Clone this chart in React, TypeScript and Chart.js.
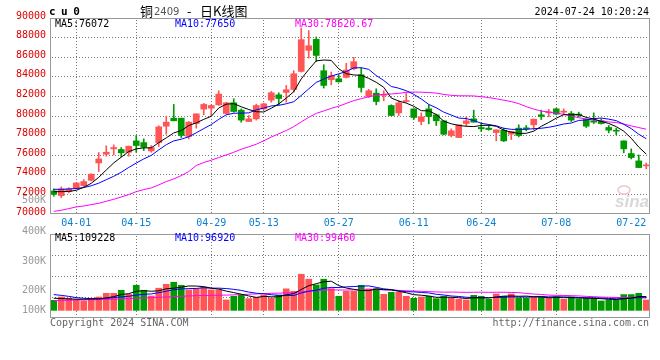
import React, { useEffect, useRef } from 'react';
import { Chart, registerables } from 'chart.js';

Chart.register(...registerables);

// ---------- data ----------
const dates = [
  '03-27','03-28','03-29','04-01','04-02','04-03','04-08','04-09','04-10','04-11',
  '04-12','04-15','04-16','04-17','04-18','04-19','04-22','04-23','04-24','04-25',
  '04-26','04-29','04-30','05-06','05-07','05-08','05-09','05-10','05-13','05-14',
  '05-15','05-16','05-17','05-20','05-21','05-22','05-23','05-24','05-27','05-28',
  '05-29','05-30','05-31','06-03','06-04','06-05','06-06','06-07','06-11','06-12',
  '06-13','06-14','06-17','06-18','06-19','06-20','06-21','06-24','06-25','06-26',
  '06-27','06-28','07-01','07-02','07-03','07-04','07-05','07-08','07-09','07-10',
  '07-11','07-12','07-15','07-16','07-17','07-18','07-19','07-22','07-23','07-24',
];

const opens = [
  72350,71880,72280,72620,72900,73440,75210,76100,76650,76580,
  76300,77460,77290,76440,77290,78960,79780,79780,77910,79230,
  80700,80800,81140,80260,81350,80600,79440,79710,80730,81620,
  82160,82400,82710,84550,86700,87820,84620,83700,83800,83940,
  84820,84210,81990,82330,82100,81070,80320,81480,80730,79440,
  80730,80120,79510,78010,77800,79230,79710,78830,78760,78310,
  78550,78140,78760,78760,79100,80120,80320,80730,80390,80260,
  80150,79640,79510,79510,78830,78550,77460,76170,75420,74910,
];
const highs = [
  72560,72760,72690,73170,73510,74120,76270,76950,77050,76780,
  76920,78010,77670,76990,79000,79980,81180,79780,79440,80220,
  81280,81140,82570,81410,81760,80730,80050,81210,81310,82510,
  82370,83120,84620,88980,88710,88060,85230,84480,84210,85370,
  85980,84890,82710,82780,82570,81140,81550,82370,80730,80320,
  81140,80190,79510,78690,79100,79920,80600,79300,79100,78590,
  78760,78420,79100,79030,79680,80600,80670,80800,80730,80460,
  80390,79710,80320,79710,79030,78760,77460,76650,76030,75210,
];
const lows = [
  71810,71670,72150,72560,72800,73370,74330,75900,76030,75830,
  75900,76300,76470,76300,76880,78140,79510,77800,77670,78760,
  80120,80020,81070,80190,80390,79370,79440,79580,80630,81410,
  81140,81410,82440,84480,85910,85570,82850,83190,83460,83870,
  84720,82440,81890,81140,81550,80050,80050,81410,79640,79100,
  79200,79030,78080,77870,77800,78960,79370,78420,78550,77460,
  77390,77600,77870,78490,78590,79640,79920,80120,80120,79440,
  79920,78830,79230,79170,78280,78080,76240,75620,74740,74600,
];
const closes = [
  72010,72560,72560,73170,73310,74060,75620,76300,76780,76240,
  76920,76990,76820,76780,78890,79370,79510,78010,79370,80220,
  81180,81070,82230,81350,80460,79580,79710,81070,81240,82370,
  81790,82680,84310,87790,87170,86180,83120,84110,83490,84690,
  85540,82910,82570,81480,82160,80050,81350,81550,79850,79920,
  79950,79510,78140,78490,79100,79510,79370,78690,78620,78590,
  77460,78420,78010,78690,79680,79950,80390,80190,80460,79580,
  80090,78960,79370,79230,78550,78450,76650,75760,74740,74980,
];
const volumes = [
  79000,105000,95000,84000,74000,92000,105000,134000,134000,158000,
  126000,197000,158000,113000,174000,205000,221000,197000,161000,171000,
  182000,161000,161000,82000,111000,121000,92000,103000,121000,97000,
  121000,169000,150000,284000,245000,200000,245000,171000,111000,150000,
  150000,197000,169000,171000,126000,142000,142000,111000,95000,105000,
  111000,92000,111000,95000,87000,82000,118000,111000,87000,129000,
  111000,129000,97000,95000,103000,105000,95000,108000,87000,105000,
  90000,95000,95000,74000,82000,79000,124000,124000,134000,82000,
];

// moving-average values at the left edge, where the window reaches before the first visible day
const ma5Head = [72280, 72280, 72300, 72420];
const ma10Head = [72520, 72520, 72550, 72600, 72700, 72880, 73150, 73500, 73850];
const ma30Head = [
  70270,70380,70550,70720,70820,70960,71090,71300,71500,71740,
  71980,72280,72490,72660,72970,73310,73580,73920,74330,74950,
  75250,75490,75760,76030,76300,76610,76850,77120,77460,
];
const vma5Head = [95000, 93000, 90000, 88000];
const vma10Head = [124000, 118000, 110000, 100000, 95000, 92000, 92000, 95000, 100000];
const vma30Head = [
  76000,79000,79000,82000,82000,84000,84000,87000,87000,90000,
  92000,95000,97000,100000,103000,105000,108000,111000,113000,116000,
  117000,118000,119000,120000,122000,124000,127000,129000,131000,
];

const tickDates = ['04-01','04-15','04-29','05-13','05-27','06-11','06-24','07-08','07-22'];
const gridDates = ['04-01','04-15','04-29','05-13','05-27','06-11','06-24','07-08'];
const priceMin = 70000;
const priceMax = 90000;
const priceStep = 2000;
const volMin = -60000;
const volMax = 600000;
const volLabels = ['500K', '400K', '300K', '200K', '100K'];
const volLabelValues = [867000, 624000, 388000, 160000, 3000];

const symbol = 'cu0';
const titleName = '铜';
const titleCode = '2409';
const titleSuffix = '日K线图';
const timeStamp = '2024-07-24 10:20:24';
const priceLegend = ['MA5:76072', 'MA10:77650', 'MA30:78620.67'];
const volLegend = ['MA5:109228', 'MA10:96920', 'MA30:99460'];
const copyright = 'Copyright 2024 SINA.COM';
const siteUrl = 'http://finance.sina.com.cn';

// ---------- styles ----------
const UP = '#FF5555';
const DOWN = '#009900';
const MA_COLORS = ['#000000', '#0000FF', '#FF00FF'];
const GRID = '#777777';
const FRAME = '#999999';
const MONO = '"DejaVu Sans Mono", monospace';
const CJK = '"Noto Sans CJK SC", sans-serif';

function movingAverage(values: number[], n: number, head: number[]) {
  return values.map((_, i) => {
    if (i < n - 1) return head[i];
    let s = 0;
    for (let k = i - n + 1; k <= i; k++) s += values[k];
    return s / n;
  });
}

function lineDs(data: number[], color: string) {
  return {
    type: 'line' as const,
    data,
    borderColor: color,
    borderWidth: 1,
    pointRadius: 0,
    tension: 0,
    fill: false,
    order: 0,
  };
}

function drawFrame(chart: any) {
  const { ctx, chartArea: a } = chart;
  ctx.save();
  ctx.strokeStyle = FRAME;
  ctx.lineWidth = 1;
  ctx.strokeRect(a.left + 0.5, a.top + 0.5, a.right - a.left - 1, a.bottom - a.top - 1);
  ctx.restore();
}

// dotted grid: one-pixel dots every 3px, placed from the chart's own scales
function drawDottedGrid(chart: any, yValues: number[]) {
  const { ctx, chartArea: a, scales } = chart;
  ctx.save();
  ctx.fillStyle = GRID;
  yValues.forEach((v) => {
    const py = Math.round(scales.y.getPixelForValue(v) - 0.5);
    for (let x = a.left + 2; x < a.right - 1; x += 3) ctx.fillRect(x, py, 1, 1);
  });
  gridDates.forEach((d) => {
    const px = Math.round(scales.x.getPixelForValue(dates.indexOf(d)) - 0.5);
    for (let y = a.top + 2; y < a.bottom - 1; y += 3) ctx.fillRect(px, y, 1, 1);
  });
  ctx.restore();
}

function drawLegend(chart: any, texts: string[], dy: number) {
  const { ctx, chartArea: a } = chart;
  ctx.save();
  ctx.font = `10px ${MONO}`;
  ctx.textBaseline = 'middle';
  ctx.textAlign = 'left';
  texts.forEach((t, i) => {
    ctx.fillStyle = MA_COLORS[i];
    ctx.fillText(t, a.left + 5 + i * 120, a.top + dy);
  });
  ctx.restore();
}

export default function App() {
  const priceRef = useRef<HTMLCanvasElement>(null);
  const volRef = useRef<HTMLCanvasElement>(null);

  useEffect(() => {
    const colors = closes.map((c, i) => (c >= opens[i] ? UP : DOWN));
    const ma5 = movingAverage(closes, 5, ma5Head);
    const ma10 = movingAverage(closes, 10, ma10Head);
    const ma30 = movingAverage(closes, 30, ma30Head);
    const vma5 = movingAverage(volumes, 5, vma5Head);
    const vma10 = movingAverage(volumes, 10, vma10Head);
    const vma30 = movingAverage(volumes, 30, vma30Head);

    const priceDecor = {
      id: 'priceDecor',
      beforeDatasetsDraw(chart: any) {
        const { ctx, chartArea: a } = chart;
        const ticks = chart.scales.y.ticks.map((t: any) => t.value).filter((v: number) => v > priceMin && v < priceMax);
        drawDottedGrid(chart, ticks);
        ctx.save();
        // watermark: small eye mark + "sina"
        ctx.strokeStyle = '#f4c4c4';
        ctx.lineWidth = 1.5;
        ctx.beginPath();
        ctx.ellipse(a.right - 26, a.bottom - 24, 6, 4, 0, 0, Math.PI * 2);
        ctx.stroke();
        ctx.font = 'italic bold 17px "Liberation Sans", sans-serif';
        ctx.fillStyle = '#d8d8d8';
        ctx.textAlign = 'right';
        ctx.textBaseline = 'alphabetic';
        ctx.fillText('sina', a.right - 1, a.bottom - 7);
        ctx.restore();
      },
      afterDraw(chart: any) {
        const { ctx, chartArea: a } = chart;
        drawFrame(chart);
        drawLegend(chart, priceLegend, 6);
        ctx.save();
        ctx.fillStyle = '#000';
        ctx.textBaseline = 'alphabetic';
        ctx.textAlign = 'left';
        ctx.font = `bold 11px ${MONO}`;
        ctx.letterSpacing = '5.5px';
        ctx.fillText(symbol, a.left - 1, 15);
        ctx.letterSpacing = '0px';
        ctx.textBaseline = 'middle';
        ctx.font = `13px ${CJK}`;
        ctx.fillText(titleName, 140, 11);
        ctx.fillStyle = '#555';
        ctx.font = '10px "DejaVu Sans", sans-serif';
        ctx.fillText(titleCode, 154, 12);
        ctx.fillStyle = '#000';
        ctx.font = `13px ${CJK}`;
        ctx.fillText('-', 187, 11);
        ctx.fillText(titleSuffix, 200, 11);
        ctx.font = `10px ${MONO}`;
        ctx.textAlign = 'right';
        ctx.fillText(timeStamp, a.right - 1, 12);
        ctx.restore();
      },
    };

    const volDecor = {
      id: 'volDecor',
      beforeDatasetsDraw(chart: any) {
        const ys = chart.scales.y;
        const r = ys.max - ys.min;
        drawDottedGrid(chart, [1, 2, 3].map((k) => ys.min + (r * k) / 4));
      },
      afterDraw(chart: any) {
        const { ctx, chartArea: a } = chart;
        const y = chart.scales.y;
        drawFrame(chart);
        drawLegend(chart, volLegend, 4.5);
        ctx.save();
        ctx.font = `10px ${MONO}`;
        ctx.textBaseline = 'middle';
        ctx.textAlign = 'right';
        ctx.fillStyle = '#999';
        volLabels.forEach((t, i) => {
          ctx.fillText(t, a.left - 4, y.getPixelForValue(volLabelValues[i]));
        });
        ctx.fillStyle = '#666';
        ctx.textAlign = 'left';
        ctx.fillText(copyright, a.left, a.bottom + 5.5);
        ctx.textAlign = 'right';
        ctx.fillText(siteUrl, a.right - 1, a.bottom + 5.5);
        ctx.restore();
      },
    };

    const priceChart = new Chart(priceRef.current as HTMLCanvasElement, {
      type: 'bar',
      data: {
        labels: dates,
        datasets: [
          lineDs(ma5, MA_COLORS[0]),
          lineDs(ma10, MA_COLORS[1]),
          lineDs(ma30, MA_COLORS[2]),
          {
            type: 'bar',
            data: opens.map((o, i) => [o, closes[i]]),
            backgroundColor: colors,
            barThickness: 6,
            grouped: false,
            minBarLength: 1,
            order: 1,
          },
          {
            type: 'bar',
            data: lows.map((l, i) => [l, highs[i]]),
            backgroundColor: colors,
            barThickness: 1,
            grouped: false,
            order: 2,
          },
        ] as any,
      },
      options: {
        animation: false,
        responsive: false,
        events: [],
        layout: { padding: { left: 0, right: 10, top: 18, bottom: 126 }, autoPadding: false },
        plugins: { legend: { display: false }, tooltip: { enabled: false } },
        scales: {
          x: {
            type: 'category',
            offset: true,
            grid: { display: false, drawTicks: false },
            border: { display: false },
            ticks: {
              autoSkip: false,
              maxRotation: 0,
              minRotation: 0,
              padding: 3,
              color: '#0A7FCF',
              font: { family: MONO, size: 10 },
              callback: (_v: any, i: number) => (tickDates.includes(dates[i]) ? dates[i] : ''),
            },
            afterFit: (s: any) => { s.height = 20; },
          },
          y: {
            type: 'linear',
            min: priceMin,
            max: priceMax,
            grid: { display: false, drawTicks: false },
            border: { display: false },
            ticks: {
              stepSize: priceStep,
              padding: 4,
              labelOffset: -2,
              color: '#E00000',
              font: { family: MONO, size: 10 },
              callback: (v: any) => String(v),
            },
            afterFit: (s: any) => { s.width = 50; },
          },
        },
      } as any,
      plugins: [priceDecor],
    });

    const volChart = new Chart(volRef.current as HTMLCanvasElement, {
      type: 'bar',
      data: {
        labels: dates,
        datasets: [
          lineDs(vma5, MA_COLORS[0]),
          lineDs(vma10, MA_COLORS[1]),
          lineDs(vma30, MA_COLORS[2]),
          {
            type: 'bar',
            data: volumes,
            backgroundColor: colors,
            barThickness: 6,
            grouped: false,
            order: 1,
          },
        ] as any,
      },
      options: {
        animation: false,
        responsive: false,
        events: [],
        layout: { padding: { left: 0, right: 10, top: 234, bottom: 42 }, autoPadding: false },
        plugins: { legend: { display: false }, tooltip: { enabled: false } },
        scales: {
          x: {
            type: 'category',
            offset: true,
            grid: { display: false, drawTicks: false },
            border: { display: false },
            ticks: { display: false },
            afterFit: (s: any) => { s.height = 0; },
          },
          y: {
            type: 'linear',
            min: volMin,
            max: volMax,
            grid: { display: false, drawTicks: false },
            border: { display: false },
            ticks: { display: false },
            afterFit: (s: any) => { s.width = 50; },
          },
        },
      } as any,
      plugins: [volDecor],
    });

    return () => {
      priceChart.destroy();
      volChart.destroy();
    };
  }, []);

  return (
    <div style={{ position: 'absolute', left: 0, top: 0, width: 660, height: 360, background: '#fff' }}>
      <canvas ref={priceRef} width={660} height={360} style={{ position: 'absolute', left: 0, top: 0 }} />
      <canvas ref={volRef} width={660} height={360} style={{ position: 'absolute', left: 0, top: 0 }} />
    </div>
  );
}
